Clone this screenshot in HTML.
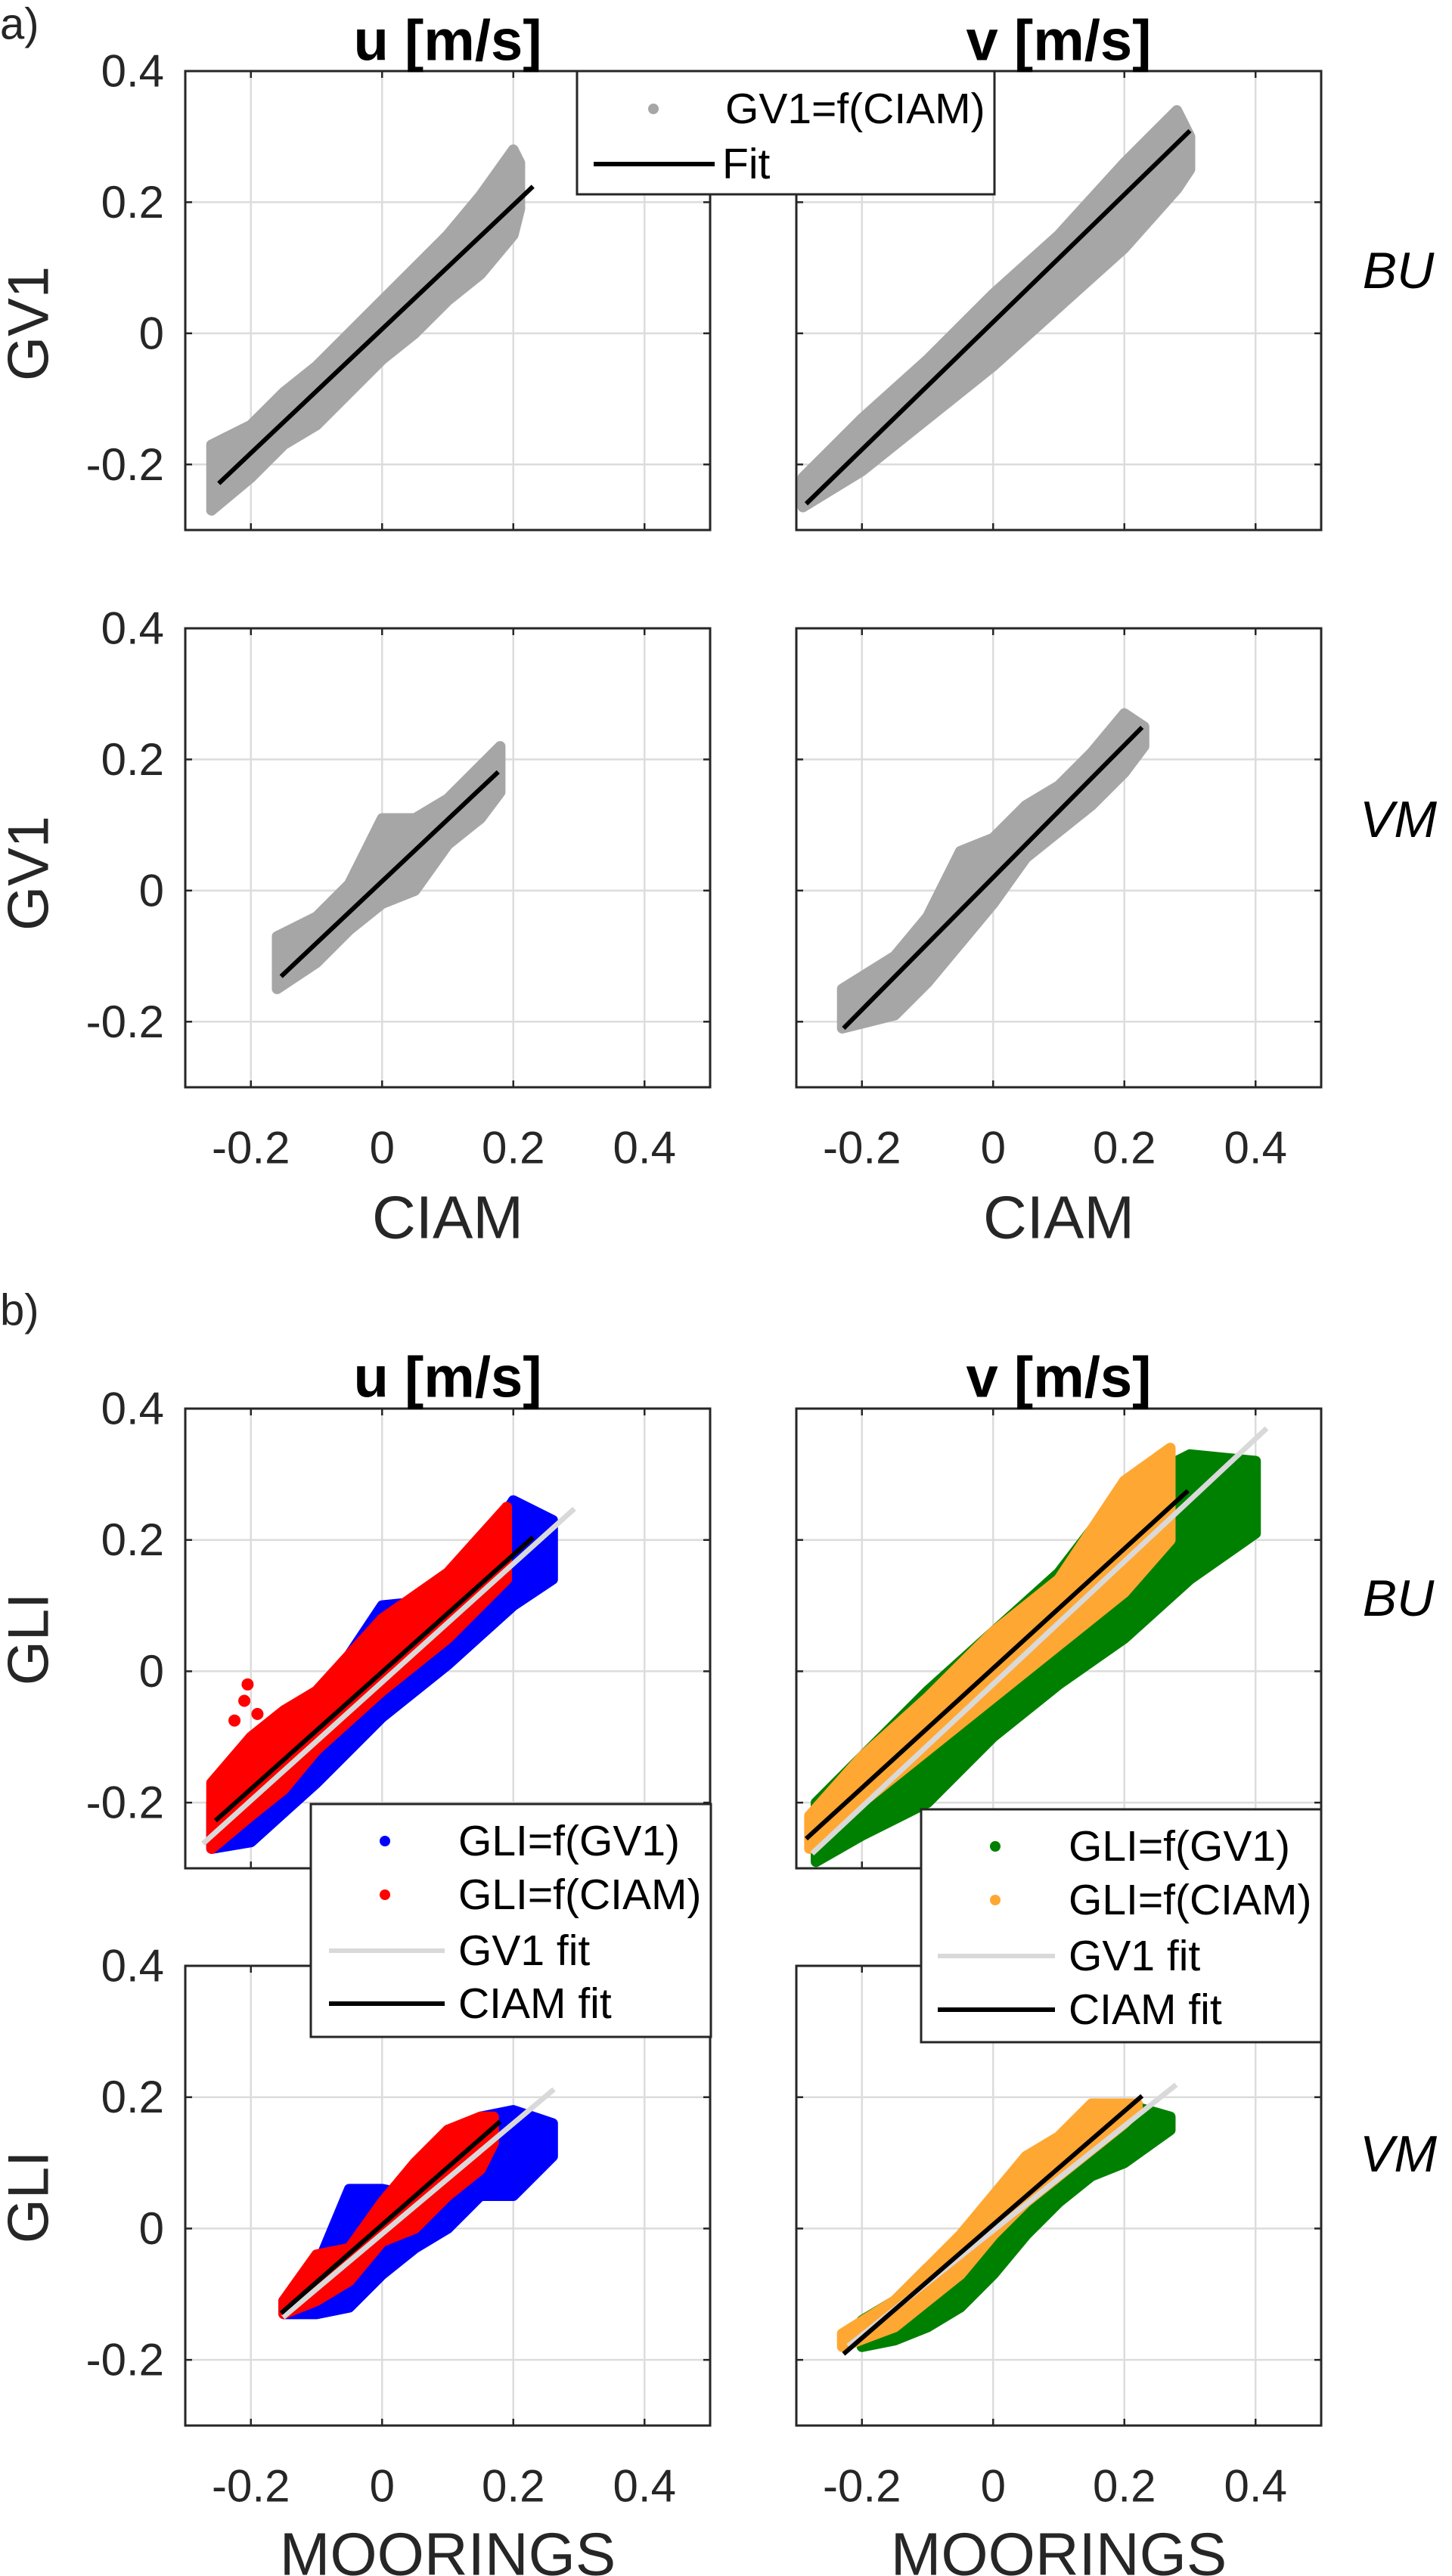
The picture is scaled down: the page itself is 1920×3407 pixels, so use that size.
<!DOCTYPE html>
<html><head><meta charset="utf-8"><style>
html,body{margin:0;padding:0;background:#fff}
svg{display:block;font-family:"Liberation Sans",Arial,sans-serif}
</style></head><body>
<svg id="fig" width="1920" height="3407" viewBox="0 0 1920 3407" xmlns="http://www.w3.org/2000/svg">
<text x="0" y="32" font-size="58" fill="#262626" dominant-baseline="central">a)</text>
<text x="0" y="1733" font-size="58" fill="#262626" dominant-baseline="central">b)</text>
<g id="plots"></g>
</svg>
<script>
// ---- data ----
const aBUu_x=[-0.26,-0.2,-0.15,-0.1,-0.05,0,0.05,0.1,0.15,0.2,0.21];
const aBUu_lo=[-0.27,-0.22,-0.17,-0.14,-0.09,-0.04,0.0,0.05,0.09,0.15,0.19];
const aBUu_hi=[-0.17,-0.14,-0.09,-0.05,0.0,0.05,0.10,0.15,0.21,0.28,0.26];
const aBUu_fit=[-0.249,-0.229,0.230,0.224];
const aBUv_x=[-0.29,-0.2,-0.1,0,0.1,0.2,0.28,0.30];
const aBUv_lo=[-0.265,-0.21,-0.13,-0.05,0.04,0.13,0.22,0.25];
const aBUv_hi=[-0.22,-0.13,-0.04,0.06,0.15,0.26,0.34,0.30];
const aBUv_fit=[-0.285,-0.26,0.30,0.309];
const aVMu_x=[-0.16,-0.1,-0.05,0,0.05,0.1,0.15,0.18];
const aVMu_lo=[-0.15,-0.11,-0.06,-0.02,0.0,0.07,0.11,0.15];
const aVMu_hi=[-0.07,-0.04,0.01,0.11,0.11,0.14,0.19,0.22];
const aVMu_fit=[-0.154,-0.131,0.177,0.181];
const aVMv_x=[-0.23,-0.15,-0.1,-0.05,0,0.05,0.1,0.15,0.2,0.23];
const aVMv_lo=[-0.21,-0.19,-0.14,-0.08,-0.02,0.05,0.09,0.13,0.18,0.22];
const aVMv_hi=[-0.15,-0.1,-0.04,0.06,0.08,0.13,0.16,0.21,0.27,0.25];
const aVMv_fit=[-0.228,-0.21,0.227,0.249];
const bBUu_gv_x=[-0.26,-0.2,-0.1,0,0.1,0.2,0.26];
const bBUu_gv_lo=[-0.27,-0.26,-0.17,-0.07,0.01,0.1,0.14];
const bBUu_gv_hi=[-0.2,-0.15,-0.05,0.1,0.11,0.26,0.23];
const bBUu_ci_x=[-0.26,-0.2,-0.15,-0.1,0,0.1,0.19];
const bBUu_ci_lo=[-0.27,-0.22,-0.18,-0.12,-0.03,0.05,0.14];
const bBUu_ci_hi=[-0.17,-0.1,-0.06,-0.03,0.08,0.15,0.25];
const bBUu_ci_outX=[-0.205,-0.21,-0.19,-0.225];
const bBUu_ci_outY=[-0.02,-0.045,-0.065,-0.075];
const bBUu_gvfit=[-0.273,-0.2625,0.293,0.2475];
const bBUu_cifit=[-0.254,-0.2275,0.230,0.204];
const bBUv_gv_x=[-0.27,-0.2,-0.1,0,0.1,0.2,0.3,0.4];
const bBUv_gv_lo=[-0.29,-0.25,-0.2,-0.1,-0.02,0.05,0.14,0.21];
const bBUv_gv_hi=[-0.2,-0.13,-0.03,0.06,0.15,0.28,0.33,0.32];
const bBUv_ci_x=[-0.28,-0.2,-0.1,0,0.1,0.2,0.27];
const bBUv_ci_lo=[-0.27,-0.2,-0.12,-0.04,0.04,0.12,0.2];
const bBUv_ci_hi=[-0.22,-0.13,-0.04,0.06,0.14,0.29,0.34];
const bBUv_gvfit=[-0.276,-0.2775,0.417,0.37];
const bBUv_cifit=[-0.285,-0.255,0.297,0.275];
const bVMu_gv_x=[-0.15,-0.1,-0.05,0,0.05,0.1,0.15,0.2,0.26];
const bVMu_gv_lo=[-0.13,-0.13,-0.12,-0.07,-0.03,0.0,0.05,0.05,0.11];
const bVMu_gv_hi=[-0.11,-0.06,0.06,0.06,0.05,0.1,0.17,0.18,0.16];
const bVMu_ci_x=[-0.15,-0.1,-0.05,0,0.05,0.1,0.15,0.17];
const bVMu_ci_lo=[-0.13,-0.11,-0.08,-0.02,0.0,0.05,0.09,0.13];
const bVMu_ci_hi=[-0.11,-0.04,-0.03,0.04,0.1,0.15,0.17,0.17];
const bVMu_gvfit=[-0.151,-0.135,0.262,0.212];
const bVMu_cifit=[-0.154,-0.129,0.180,0.163];
const bVMv_gv_x=[-0.2,-0.15,-0.1,-0.05,0,0.05,0.1,0.15,0.2,0.27];
const bVMv_gv_lo=[-0.18,-0.17,-0.15,-0.12,-0.07,-0.01,0.04,0.08,0.1,0.15];
const bVMv_gv_hi=[-0.14,-0.11,-0.06,-0.04,0.04,0.08,0.13,0.15,0.19,0.17];
const bVMv_ci_x=[-0.23,-0.15,-0.1,-0.05,0,0.05,0.1,0.15,0.2,0.22];
const bVMv_ci_lo=[-0.18,-0.15,-0.11,-0.07,-0.01,0.04,0.08,0.12,0.16,0.18];
const bVMv_ci_hi=[-0.16,-0.11,-0.06,-0.01,0.05,0.11,0.14,0.19,0.19,0.19];
const bVMv_gvfit=[-0.221,-0.179,0.279,0.219];
const bVMv_cifit=[-0.228,-0.191,0.227,0.202];

const xTicks=[-0.2,0,0.2,0.4];
const xTickLabels=["-0.2","0","0.2","0.4"];
const yTicks=[-0.2,0,0.2,0.4];
const yTickLabels=["-0.2","0","0.2","0.4"];

// ---- layout ----
const NS="http://www.w3.org/2000/svg";
const root=document.getElementById('plots');
const COLS=[245,1053], W=694;
const XMIN=-0.3,XMAX=0.5,YMIN=-0.3,YMAX=0.4;
const TICKFS=60;
function mk(tag,attrs,parent){const e=document.createElementNS(NS,tag);for(const k in attrs)e.setAttribute(k,attrs[k]);(parent||root).appendChild(e);return e;}
function makeAxes(left,top,h){
  return {x:v=>left+(v-XMIN)/(XMAX-XMIN)*W, y:v=>top+(YMAX-v)/(YMAX-YMIN)*h, left,top,h};
}
function frame(ax,name,showY,showX){
  const g=mk('g',{});
  
  
  mk('rect',{x:ax.left,y:ax.top,width:W,height:ax.h,fill:'#fff'},g);
  xTicks.forEach((t,i)=>{
    const l=mk('line',{x1:ax.x(t),x2:ax.x(t),y1:ax.top,y2:ax.top+ax.h,stroke:'#dcdcdc','stroke-width':2.5},g);
    
    
    mk('line',{x1:ax.x(t),x2:ax.x(t),y1:ax.top+ax.h,y2:ax.top+ax.h-9,stroke:'#262626','stroke-width':2.5},g);
    mk('line',{x1:ax.x(t),x2:ax.x(t),y1:ax.top,y2:ax.top+9,stroke:'#262626','stroke-width':2.5},g);
    if(showX){const tx=mk('text',{x:ax.x(t),y:ax.top+ax.h+80,'font-size':TICKFS,fill:'#262626','text-anchor':'middle','dominant-baseline':'central'},g);tx.textContent=xTickLabels[i];
      
      }
  });
  yTicks.forEach((t,i)=>{
    if(t>-0.29&&t<0.39){
      const l=mk('line',{x1:ax.left,x2:ax.left+W,y1:ax.y(t),y2:ax.y(t),stroke:'#dcdcdc','stroke-width':2.5},g);
      
      
      mk('line',{x1:ax.left,x2:ax.left+9,y1:ax.y(t),y2:ax.y(t),stroke:'#262626','stroke-width':2.5},g);
      mk('line',{x1:ax.left+W,x2:ax.left+W-9,y1:ax.y(t),y2:ax.y(t),stroke:'#262626','stroke-width':2.5},g);
    }
    if(showY){const tx=mk('text',{x:ax.left-28,y:ax.y(t),'font-size':TICKFS,fill:'#262626','text-anchor':'end','dominant-baseline':'central'},g);tx.textContent=yTickLabels[i];
      
      }
  });
  return g;
}
function box(ax){mk('rect',{x:ax.left,y:ax.top,width:W,height:ax.h,fill:'none',stroke:'#262626','stroke-width':3});}
function band(ax,xs,lo,hi,color,name){
  let pts=xs.map((x,i)=>ax.x(x)+','+ax.y(lo[i]));
  pts=pts.concat(xs.map((x,i)=>ax.x(x)+','+ax.y(hi[i])).reverse());
  const p=mk('polygon',{points:pts.join(' '),fill:color,stroke:color,'stroke-width':14,'stroke-linejoin':'round'});
  
  
}
function dots(ax,xs,ys,color,name){
  xs.forEach((x,i)=>{const c=mk('circle',{cx:ax.x(x),cy:ax.y(ys[i]),r:8,fill:color});
    
    });
}
function fit(ax,f,color,name,w){
  const l=mk('line',{x1:ax.x(f[0]),y1:ax.y(f[1]),x2:ax.x(f[2]),y2:ax.y(f[3]),stroke:color,'stroke-width':w||6});
  
  
}
function txt(x,y,s,size,attrs,name){
  const t=mk('text',Object.assign({x:x,y:y,'font-size':size,fill:'#262626','text-anchor':'middle','dominant-baseline':'central'},attrs||{}));
  t.textContent=s;
  
  
  return t;
}
const GRAY='#a6a6a6',LG='#d9d9d9',BLUE='#0000ff',RED='#ff0000',GREEN='#008000',ORANGE='#ffa733';

const a1u=makeAxes(COLS[0],94,607), a1v=makeAxes(COLS[1],94,607);
const a2u=makeAxes(COLS[0],831,607), a2v=makeAxes(COLS[1],831,607);
frame(a1u,'axes-a-bu-u',true,false); band(a1u,aBUu_x,aBUu_lo,aBUu_hi,GRAY,'scatter-gv1-ciam'); fit(a1u,aBUu_fit,'#000','fit-line'); box(a1u);
frame(a1v,'axes-a-bu-v',false,false); band(a1v,aBUv_x,aBUv_lo,aBUv_hi,GRAY,'scatter-gv1-ciam'); fit(a1v,aBUv_fit,'#000','fit-line'); box(a1v);
frame(a2u,'axes-a-vm-u',true,true); band(a2u,aVMu_x,aVMu_lo,aVMu_hi,GRAY,'scatter-gv1-ciam'); fit(a2u,aVMu_fit,'#000','fit-line'); box(a2u);
frame(a2v,'axes-a-vm-v',false,true); band(a2v,aVMv_x,aVMv_lo,aVMv_hi,GRAY,'scatter-gv1-ciam'); fit(a2v,aVMv_fit,'#000','fit-line'); box(a2v);

const b1u=makeAxes(COLS[0],1863,608), b1v=makeAxes(COLS[1],1863,608);
const b2u=makeAxes(COLS[0],2600,608), b2v=makeAxes(COLS[1],2600,608);
frame(b1u,'axes-b-bu-u',true,false);
band(b1u,bBUu_gv_x,bBUu_gv_lo,bBUu_gv_hi,BLUE,'scatter-gli-gv1');
band(b1u,bBUu_ci_x,bBUu_ci_lo,bBUu_ci_hi,RED,'scatter-gli-ciam');
dots(b1u,bBUu_ci_outX,bBUu_ci_outY,RED,'scatter-gli-ciam-outlier');
fit(b1u,bBUu_gvfit,LG,'gv1-fit-line',7); fit(b1u,bBUu_cifit,'#000','ciam-fit-line'); box(b1u);
frame(b1v,'axes-b-bu-v',false,false);
band(b1v,bBUv_gv_x,bBUv_gv_lo,bBUv_gv_hi,GREEN,'scatter-gli-gv1');
band(b1v,bBUv_ci_x,bBUv_ci_lo,bBUv_ci_hi,ORANGE,'scatter-gli-ciam');
fit(b1v,bBUv_gvfit,LG,'gv1-fit-line',7); fit(b1v,bBUv_cifit,'#000','ciam-fit-line'); box(b1v);
frame(b2u,'axes-b-vm-u',true,true);
band(b2u,bVMu_gv_x,bVMu_gv_lo,bVMu_gv_hi,BLUE,'scatter-gli-gv1');
band(b2u,bVMu_ci_x,bVMu_ci_lo,bVMu_ci_hi,RED,'scatter-gli-ciam');
fit(b2u,bVMu_gvfit,LG,'gv1-fit-line',7); fit(b2u,bVMu_cifit,'#000','ciam-fit-line'); box(b2u);
frame(b2v,'axes-b-vm-v',false,true);
band(b2v,bVMv_gv_x,bVMv_gv_lo,bVMv_gv_hi,GREEN,'scatter-gli-gv1');
band(b2v,bVMv_ci_x,bVMv_ci_lo,bVMv_ci_hi,ORANGE,'scatter-gli-ciam');
fit(b2v,bVMv_gvfit,LG,'gv1-fit-line',7); fit(b2v,bVMv_cifit,'#000','ciam-fit-line'); box(b2v);

txt(592,54,'u [m/s]',76,{'font-weight':'bold',fill:'#000'},'title-u');
txt(1400,54,'v [m/s]',76,{'font-weight':'bold',fill:'#000'},'title-v');
txt(592,1822,'u [m/s]',76,{'font-weight':'bold',fill:'#000'},'title-u');
txt(1400,1822,'v [m/s]',76,{'font-weight':'bold',fill:'#000'},'title-v');
[[428,'GV1'],[1155,'GV1'],[2168,'GLI'],[2906,'GLI']].forEach(([y,s])=>{
  txt(38,y,s,76,{transform:'rotate(-90 38 '+y+')'},'y-axis-title');
});
txt(1849,358,'BU',68,{'font-style':'italic',fill:'#000'},'row-label-bu');
txt(1849,1084,'VM',68,{'font-style':'italic',fill:'#000'},'row-label-vm');
txt(1849,2114,'BU',68,{'font-style':'italic',fill:'#000'},'row-label-bu');
txt(1849,2849,'VM',68,{'font-style':'italic',fill:'#000'},'row-label-vm');
txt(592,1610,'CIAM',80,{},'x-axis-title');
txt(1400,1610,'CIAM',80,{},'x-axis-title');
txt(592,3378,'MOORINGS',80,{},'x-axis-title');
txt(1400,3378,'MOORINGS',80,{},'x-axis-title');

function legend(x,y,w,h,entries,name){
  const g=mk('g',{});
  
  
  mk('rect',{x:x,y:y,width:w,height:h,fill:'#fff',stroke:'#262626','stroke-width':3},g);
  entries.forEach(e=>{
    if(e.type==='dot'){mk('circle',{cx:e.mx,cy:e.y,r:7,fill:e.color},g);}
    else{mk('line',{x1:e.l1,x2:e.l2,y1:e.y,y2:e.y,stroke:e.color,'stroke-width':6},g);}
    const t=mk('text',{x:e.tx,y:e.y,'font-size':57,fill:'#000','dominant-baseline':'central'},g);
    t.textContent=e.label;
    
    
  });
}
legend(763,94,552,163,[
  {type:'dot',mx:864,y:144,color:GRAY,tx:959,label:'GV1=f(CIAM)'},
  {type:'line',l1:785,l2:945,y:217,color:'#000',tx:955,label:'Fit'}],'legend-a');
legend(411,2386,529,308,[
  {type:'dot',mx:509,y:2435,color:BLUE,tx:606,label:'GLI=f(GV1)'},
  {type:'dot',mx:509,y:2506,color:RED,tx:606,label:'GLI=f(CIAM)'},
  {type:'line',l1:435,l2:588,y:2580,color:LG,tx:606,label:'GV1 fit'},
  {type:'line',l1:435,l2:588,y:2650,color:'#000',tx:606,label:'CIAM fit'}],'legend-b-u');
legend(1218,2393,529,308,[
  {type:'dot',mx:1316,y:2442,color:GREEN,tx:1413,label:'GLI=f(GV1)'},
  {type:'dot',mx:1316,y:2513,color:ORANGE,tx:1413,label:'GLI=f(CIAM)'},
  {type:'line',l1:1240,l2:1395,y:2587,color:LG,tx:1413,label:'GV1 fit'},
  {type:'line',l1:1240,l2:1395,y:2658,color:'#000',tx:1413,label:'CIAM fit'}],'legend-b-v');
</script>
</body></html>
